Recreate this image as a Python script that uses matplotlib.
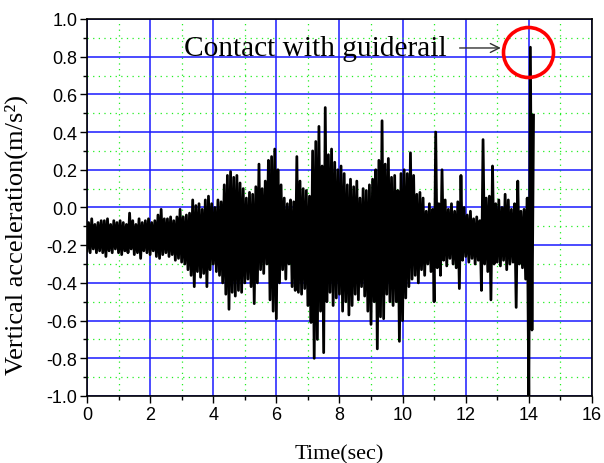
import numpy as np
import matplotlib as mpl
import matplotlib.pyplot as plt
import matplotlib.ticker as mTicker

mpl.rcParams['axes.unicode_minus'] = False

# Envelope of the vertical acceleration record, one value every 0.1 s.
# accLow sits at t, accHigh at t + 0.05 s.
tStart = 0.0
tStep = 0.1
accHigh = [
    -0.08, -0.06, -0.09, -0.08, -0.07, -0.07, -0.06, -0.09, -0.07, -0.08,
    -0.07, -0.08, -0.09, -0.03, -0.07, -0.09, -0.06, -0.08, -0.07, -0.06,
    -0.08, -0.07, -0.04, -0.01, -0.06, -0.06, -0.05, -0.07, -0.05, -0.01,
    -0.05, -0.04, -0.03, 0.04, 0.01, 0.02, -0.01, 0.04, 0.06, 0.02,
    0.00, 0.04, 0.03, 0.12, 0.17, 0.19, 0.16, 0.17, 0.13, 0.10,
    0.05, 0.08, 0.07, 0.11, 0.23, 0.10, 0.14, 0.25, 0.27, 0.31,
    0.20, 0.12, 0.05, 0.02, 0.04, 0.03, 0.27, 0.14, 0.10, 0.09,
    0.06, 0.30, 0.35, 0.43, 0.22, 0.53, 0.28, 0.31, 0.24, 0.20,
    0.22, 0.18, 0.12, 0.15, 0.11, 0.14, 0.05, 0.10, 0.09, 0.12,
    0.15, 0.20, 0.25, 0.46, 0.23, 0.26, 0.16, 0.17, 0.09, 0.18,
    0.20, 0.18, 0.29, 0.17, 0.07, 0.08, 0.05, -0.02, 0.02, -0.01,
    0.40, 0.02, 0.20, 0.04, -0.01, 0.02, -0.02, 0.03, 0.17, 0.00,
    -0.04, -0.02, -0.06, -0.05, -0.07, 0.36, 0.05, 0.06, 0.22, 0.02,
    0.04, 0.00, 0.07, 0.04, -0.01, 0.02, 0.14, -0.02, -0.01, 0.05,
    0.85, 0.49,
]
accLow = [
    -0.23, -0.24, -0.22, -0.24, -0.23, -0.24, -0.26, -0.23, -0.24, -0.22,
    -0.24, -0.25, -0.23, -0.24, -0.22, -0.25, -0.24, -0.27, -0.23, -0.24,
    -0.25, -0.23, -0.26, -0.27, -0.25, -0.24, -0.26, -0.25, -0.28, -0.27,
    -0.29, -0.30, -0.33, -0.36, -0.42, -0.34, -0.37, -0.35, -0.42, -0.33,
    -0.30, -0.34, -0.36, -0.40, -0.46, -0.54, -0.45, -0.47, -0.44, -0.45,
    -0.40, -0.38, -0.42, -0.51, -0.40, -0.33, -0.35, -0.30, -0.49, -0.55,
    -0.59, -0.40, -0.33, -0.38, -0.30, -0.42, -0.44, -0.45, -0.46, -0.43,
    -0.52, -0.61, -0.80, -0.70, -0.55, -0.77, -0.50, -0.45, -0.52, -0.48,
    -0.46, -0.55, -0.50, -0.57, -0.52, -0.46, -0.49, -0.42, -0.47, -0.55,
    -0.62, -0.50, -0.75, -0.58, -0.59, -0.46, -0.50, -0.52, -0.50, -0.71,
    -0.60, -0.48, -0.42, -0.38, -0.36, -0.40, -0.33, -0.36, -0.30, -0.34,
    -0.50, -0.32, -0.36, -0.28, -0.31, -0.27, -0.30, -0.32, -0.43, -0.28,
    -0.26, -0.29, -0.27, -0.30, -0.28, -0.44, -0.30, -0.34, -0.49, -0.30,
    -0.29, -0.31, -0.28, -0.33, -0.30, -0.29, -0.53, -0.30, -0.32, -0.38,
    -1.00, -0.65,
]

xTicks = [0, 2, 4, 6, 8, 10, 12, 14, 16]
yTicks = [-1.0, -0.8, -0.6, -0.4, -0.2, 0.0, 0.2, 0.4, 0.6, 0.8, 1.0]

# contact event marker
contactT, contactA = 13.97, 0.825

# build the trace by alternating low / high samples
n = len(accLow)
tLow = tStart + tStep * np.arange(n)
t = np.empty(2 * n)
a = np.empty(2 * n)
t[0::2] = tLow
t[1::2] = tLow + tStep / 2
a[0::2] = accLow
a[1::2] = accHigh

fig = plt.figure(figsize=(6.04, 4.64), dpi=100)
ax = fig.add_axes([0.144, 0.1444, 0.836, 0.8126])

ax.plot(t, a, color='k', lw=2.0, zorder=3)

ax.set_xlim(0, 16)
ax.set_ylim(-1.0, 1.0)
ax.set_xticks(xTicks)
ax.set_yticks(yTicks)
ax.yaxis.set_major_formatter(mTicker.FormatStrFormatter('%.1f'))
ax.xaxis.set_minor_locator(mTicker.MultipleLocator(1))
ax.yaxis.set_minor_locator(mTicker.MultipleLocator(0.1))

ax.grid(which='major', color='#1a1aff', lw=1.1, zorder=0)
ax.grid(which='minor', color='#22ee22', lw=0.9, ls=(0, (1, 3.5)), zorder=0)
ax.set_axisbelow(True)

ax.tick_params(which='major', direction='out', length=5, width=1.0,
               labelsize=13, pad=2)
ax.tick_params(which='minor', direction='out', length=3, width=1.0)
for tl in ax.get_xticklabels() + ax.get_yticklabels():
    tl.set_fontfamily('Liberation Sans')
for sp in ax.spines.values():
    sp.set_linewidth(1.2)

ax.set_xlabel('Time(sec)', family='Liberation Serif', fontsize=16)
ax.xaxis.set_label_coords(0.5, -0.127)
ax.set_ylabel('Vertical acceleration(m/s²)', family='Liberation Serif',
              fontsize=19)
ax.yaxis.set_label_coords(-0.117, 0.43)

ax.text(3.07, 0.809, 'Contact with guiderail', family='Liberation Serif',
        fontsize=21.2, va='baseline', ha='left', zorder=4)
ax.annotate('', xy=(13.2, 0.846), xytext=(11.72, 0.846),
            arrowprops=dict(arrowstyle='->', color='#333333', lw=1.0,
                            mutation_scale=16), zorder=4)
ax.plot(contactT, contactA, 'o', ms=36, mfc='none', mec='#ff0000', mew=2.6,
        zorder=5, clip_on=False)

fig.savefig('out.png', dpi=100)
